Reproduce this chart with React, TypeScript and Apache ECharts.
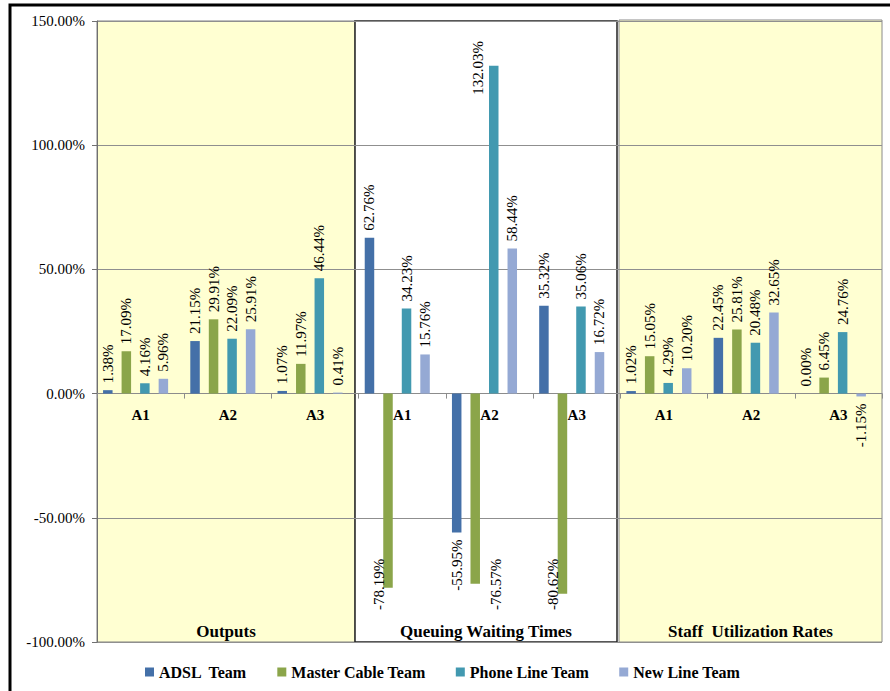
import React, { useEffect, useRef } from 'react';
import * as echarts from 'echarts';

const categories = ['A1', 'A2', 'A3', 'A1', 'A2', 'A3', 'A1', 'A2', 'A3'];
const seriesNames = ['ADSL  Team', 'Master Cable Team', 'Phone Line Team', 'New Line Team'];
const adsl = [1.38, 21.15, 1.07, 62.76, -55.95, 35.32, 1.02, 22.45, 0.0];
const masterCable = [17.09, 29.91, 11.97, -78.19, -76.57, -80.62, 15.05, 25.81, 6.45];
const phoneLine = [4.16, 22.09, 46.44, 34.23, 132.03, 35.06, 4.29, 20.48, 24.76];
const newLine = [5.96, 25.91, 0.41, 15.76, 58.44, 16.72, 10.2, 32.65, -1.15];
const yMin = -100;
const yMax = 150;
const yStep = 50;
const panelTitles = ['Outputs', 'Queuing Waiting Times', 'Staff  Utilization Rates'];
const colors = ['#4470A8', '#8BA54A', '#4299B0', '#95A9D4'];

const FONT = '"Liberation Serif", "Times New Roman", serif';

// layout
const W = 890;
const H = 691;
const G_LEFT = 97;
const G_RIGHT = 882;
const G_TOP = 21;
const G_BOTTOM = 642;
const PX_PER_UNIT = (G_BOTTOM - G_TOP) / (yMax - yMin);
// label placement tweaks (screen px: [up, right]) where Excel moved labels to fit the plot
const labelNudges: Record<string, [number, number]> = {
  '1-3': [36, -9],
  '1-4': [32, 21],
  '1-5': [42, -9],
  '2-4': [-36, -16],
};

function fmt(v: number) {
  return v.toFixed(2) + '%';
}

function buildData(values: number[], s: number) {
  return values.map((v, i) => {
    const n = labelNudges[s + '-' + i] || [0, 0];
    // labels are rotated 90deg: local x points up, local y points right
    const offset = [n[0], n[1]];
    if (v >= 0) {
      return {
        value: v,
        label: { position: 'top', align: 'left', verticalAlign: 'middle', distance: 7, offset },
      };
    }
    return {
      value: v,
      label: { position: 'bottom', align: 'right', verticalAlign: 'middle', distance: 7, offset },
    };
  });
}

export default function App() {
  const ref = useRef<HTMLDivElement>(null);
  useEffect(() => {
    document.body.style.margin = '0';
    if (!ref.current) return;
    const chart = echarts.init(ref.current, undefined, { renderer: 'svg' });
    const allSeries = [adsl, masterCable, phoneLine, newLine];
    const series: any[] = allSeries.map((vals, k) => ({
      name: seriesNames[k],
      type: 'bar',
      data: buildData(vals, k),
      barWidth: 9.5,
      barGap: '95%',
      itemStyle: { color: colors[k] },
      label: {
        show: true,
        rotate: 90,
        formatter: (p: any) => fmt(p.value),
        fontFamily: FONT,
        fontSize: 15,
        color: '#000',
      },
      z: 3,
    }));
    // invisible spacer slot (Excel leaves room for an empty fifth series)
    series.push({
      name: 'spacer',
      type: 'bar',
      data: [],
      barWidth: 0.01,
      barGap: '95%',
      silent: true,
    });

    const panels = [
      { x: G_LEFT, w: 355 - G_LEFT, fill: '#FFFFD2', stroke: '#808080', lw: 1 },
      { x: 355, w: 617 - 355, fill: '#FFFFFF', stroke: '#222222', lw: 1.5 },
      { x: 619, w: G_RIGHT - 619, fill: '#FFFFD2', stroke: '#8a8a8a', lw: 1 },
    ];
    const graphics: any[] = [];
    panels.forEach((p, i) => {
      graphics.push({
        type: 'rect',
        z: -10,
        shape: { x: p.x, y: G_TOP - (i === 2 ? 1 : 0), width: p.w, height: G_BOTTOM - G_TOP + (i === 2 ? 1 : 0) },
        style: { fill: p.fill, stroke: p.stroke, lineWidth: p.lw },
      });
      graphics.push({
        type: 'text',
        z: 50,
        x: p.x + p.w / 2,
        y: 631,
        style: {
          text: panelTitles[i],
          fontFamily: FONT,
          fontSize: 17,
          fontWeight: 'bold',
          fill: '#000',
          align: 'center',
          verticalAlign: 'middle',
        },
      });
    });
    graphics.push({
      type: 'rect',
      z: 60,
      shape: { x: 10, y: 5, width: 900, height: 720 },
      style: { fill: 'none', stroke: '#000', lineWidth: 3 },
    });

    // place the category axis at the zero line
    const zeroOffset = -(0 - yMin) * PX_PER_UNIT;

    chart.setOption({
      animation: false,
      backgroundColor: '#fff',
      grid: { left: G_LEFT, right: W - G_RIGHT, top: G_TOP, bottom: H - G_BOTTOM, containLabel: false },
      legend: {
        data: seriesNames,
        top: 659,
        left: 140,
        itemWidth: 9,
        itemHeight: 9,
        itemGap: 30,
        icon: 'rect',
        textStyle: { fontFamily: FONT, fontSize: 16, fontWeight: 'bold', color: '#000' },
      },
      xAxis: {
        type: 'category',
        data: categories,
        position: 'bottom',
        offset: zeroOffset,
        axisLine: { onZero: false, lineStyle: { color: '#8c8c8c', width: 1 } },
        axisTick: { show: true, interval: 0, length: 5, lineStyle: { color: '#8c8c8c' } },
        axisLabel: {
          interval: 0,
          margin: 14,
          fontFamily: FONT,
          fontSize: 15,
          fontWeight: 'bold',
          color: '#000',
        },
        splitLine: { show: false },
      },
      yAxis: {
        type: 'value',
        min: yMin,
        max: yMax,
        interval: yStep,
        axisLine: { show: true, lineStyle: { color: '#707070' } },
        axisTick: { show: true, length: 5, lineStyle: { color: '#707070' } },
        axisLabel: {
          formatter: (v: number) => fmt(v),
          fontFamily: FONT,
          fontSize: 15,
          color: '#000',
          margin: 12,
        },
        splitLine: { show: true, lineStyle: { color: '#8f8f8f', width: 1 } },
      },
      graphic: graphics,
      series,
    });
    return () => chart.dispose();
  }, []);
  return <div ref={ref} style={{ width: W, height: H }} />;
}
